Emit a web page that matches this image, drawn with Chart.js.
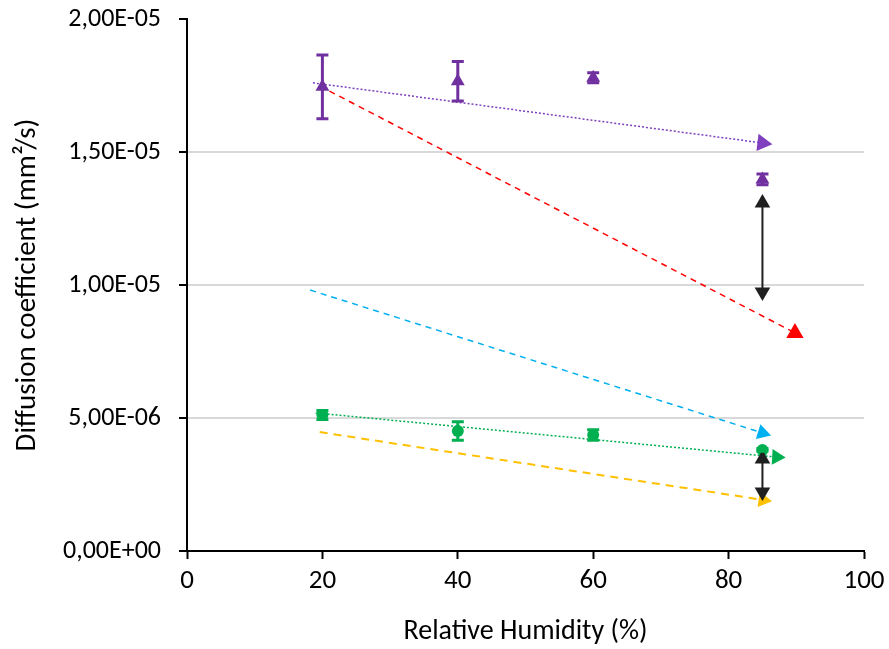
<!DOCTYPE html>
<html>
<head>
<meta charset="utf-8">
<script src="https://cdn.jsdelivr.net/npm/chart.js@4/dist/chart.umd.min.js"></script>
<style>
html,body{margin:0;padding:0;background:#fff;}
#wrap{width:889px;height:649px;position:relative;}
</style>
</head>
<body>
<div id="wrap"><canvas id="c" width="889" height="649"></canvas></div>
<script>
// ---- data ----
const humidity = [20, 40, 60, 85];
const purpleValues = [1.745e-5, 1.766e-5, 1.779e-5, 1.397e-5];
const purpleErrors = [1.2e-6, 0.74e-6, 0.19e-6, 0.2e-6];
const greenValues = [5.11e-6, 4.51e-6, 4.36e-6, 3.8e-6];
const greenErrors = [0.17e-6, 0.35e-6, 0.2e-6, 0.05e-6];

const purpleTrendX = [18.6, 85];
const purpleTrendY = [1.76e-5, 1.534e-5];
const redTrendX = [19.6, 89.8];
const redTrendY = [1.748e-5, 8.2e-6];
const cyanTrendX = [18.2, 85];
const cyanTrendY = [9.81e-6, 4.44e-6];
const greenTrendX = [19, 87.1];
const greenTrendY = [5.19e-6, 3.53e-6];
const yellowTrendX = [19.6, 85.1];
const yellowTrendY = [4.47e-6, 1.92e-6];
const blackUpperX = [85, 85];
const blackUpperY = [1.308e-5, 9.74e-6];
const blackLowerX = [85, 85];
const blackLowerY = [3.46e-6, 2.22e-6];

const xTicks = [0, 20, 40, 60, 80, 100];
const yTicks = [0, 5e-6, 1e-5, 1.5e-5, 2e-5];

const FONT = "Carlito, 'Liberation Sans', Arial, sans-serif";
const PURPLE = '#7030A0', GREEN = '#00B050', RED = '#FF0000', CYAN = '#00B0F0', YELLOW = '#FFC000', BLACK = '#1F1F1F';

const pts = (xs, ys) => xs.map((x, i) => ({x: x, y: ys[i]}));

function fmtSci(v) {
  if (v === 0) return '0,00E+00';
  const s = v.toExponential(2);
  const m = s.split('e');
  const exp = parseInt(m[1], 10);
  const sign = exp < 0 ? '-' : '+';
  const ae = Math.abs(exp);
  return m[0].replace('.', ',') + 'E' + sign + (ae < 10 ? '0' + ae : ae);
}

function trend(xs, ys, color, dash, width, endRot, r) {
  return {
    type: 'line',
    data: pts(xs, ys),
    borderColor: color,
    backgroundColor: color,
    borderWidth: width,
    borderDash: dash,
    pointStyle: 'triangle',
    pointRadius: [0, r],
    pointHoverRadius: [0, r],
    pointRotation: [0, endRot],
    pointBorderWidth: 0,
    pointBackgroundColor: color,
    showLine: true,
    fill: false,
    tension: 0
  };
}

function dblArrow(xs, ys) {
  return {
    type: 'line',
    data: pts(xs, ys),
    borderColor: BLACK,
    backgroundColor: BLACK,
    borderWidth: 2,
    pointStyle: 'triangle',
    pointRadius: 9,
    pointHoverRadius: 9,
    pointRotation: [0, 180],
    pointBorderWidth: 0,
    pointBackgroundColor: BLACK,
    showLine: true,
    fill: false
  };
}

const errorBarPlugin = {
  id: 'errorBars',
  afterDatasetsDraw(chart) {
    const ctx = chart.ctx;
    const xs = chart.scales.x, ys = chart.scales.y;
    const sets = [[purpleValues, purpleErrors, PURPLE], [greenValues, greenErrors, GREEN]];
    ctx.save();
    ctx.lineWidth = 3;
    sets.forEach(([vals, errs, col]) => {
      ctx.strokeStyle = col;
      humidity.forEach((h, i) => {
        const px = xs.getPixelForValue(h);
        const top = ys.getPixelForValue(vals[i] + errs[i]);
        const bot = ys.getPixelForValue(vals[i] - errs[i]);
        ctx.beginPath();
        ctx.moveTo(px, top); ctx.lineTo(px, bot);
        ctx.moveTo(px - 6, top); ctx.lineTo(px + 6, top);
        ctx.moveTo(px - 6, bot); ctx.lineTo(px + 6, bot);
        ctx.stroke();
      });
    });
    ctx.restore();
  }
};

const datasets = [
  dblArrow(blackUpperX, blackUpperY),
  dblArrow(blackLowerX, blackLowerY),
  {
    type: 'scatter',
    data: pts(humidity, purpleValues),
    pointStyle: 'triangle',
    pointRadius: 8,
    pointBackgroundColor: PURPLE,
    pointBorderColor: PURPLE,
    pointBorderWidth: 0,
    showLine: false
  },
  {
    type: 'scatter',
    data: pts(humidity, greenValues),
    pointStyle: 'circle',
    pointRadius: 6,
    pointBackgroundColor: GREEN,
    pointBorderColor: GREEN,
    pointBorderWidth: 0,
    showLine: false
  },
  trend(purpleTrendX, purpleTrendY, '#7F3FBF', [2, 2], 1.5, 97, 10),
  trend(redTrendX, redTrendY, RED, [6, 5], 1.5, 0, 10),
  trend(cyanTrendX, cyanTrendY, CYAN, [6, 5], 1.5, 107, 9),
  trend(greenTrendX, greenTrendY, GREEN, [2, 2], 1.5, 93, 9),
  trend(yellowTrendX, yellowTrendY, YELLOW, [8, 6], 2, 98, 9)
];

new Chart(document.getElementById('c'), {
  type: 'scatter',
  data: {datasets: datasets},
  plugins: [errorBarPlugin],
  options: {
    responsive: false,
    animation: false,
    events: [],
    layout: {padding: {top: 19, left: 0, right: 25, bottom: 0}},
    plugins: {legend: {display: false}, tooltip: {enabled: false}},
    scales: {
      x: {
        type: 'linear',
        min: 0, max: 100,
        afterBuildTicks(s) { s.ticks = xTicks.map(v => ({value: v})); },
        afterFit(s) { s.height = 98; s.paddingLeft = 0; s.paddingRight = 0; },
        ticks: {
          color: '#000',
          font: {family: FONT, size: 27},
          padding: 6,
          maxRotation: 0
        },
        grid: {drawOnChartArea: false, tickLength: 8, tickColor: '#000', tickWidth: 2},
        border: {color: '#000', width: 2},
        title: {
          display: true,
          text: 'Relative Humidity (%)',
          color: '#000',
          font: {family: FONT, size: 28},
          padding: {top: 4, bottom: 0}
        }
      },
      y: {
        type: 'linear',
        min: 0, max: 2e-5,
        afterBuildTicks(s) { s.ticks = yTicks.map(v => ({value: v})); },
        afterFit(s) { s.width = 187; s.paddingTop = 0; s.paddingBottom = 0; },
        ticks: {
          color: '#000',
          font: {family: FONT, size: 26},
          padding: 18,
          callback: (v) => fmtSci(v)
        },
        grid: {
          color: (c) => (c.tick && c.tick.value >= 2e-5) ? 'rgba(0,0,0,0)' : '#D9D9D9',
          lineWidth: 2,
          tickLength: 8,
          tickColor: '#000',
          tickWidth: 2
        },
        border: {color: '#000', width: 2},
        title: {
          display: true,
          text: 'Diffusion coefficient (mm²/s)',
          color: '#000',
          font: {family: FONT, size: 29},
          padling: 0,
          padding: {top: 10, bottom: 4}
        }
      }
    }
  }
});
</script>
</body>
</html>
